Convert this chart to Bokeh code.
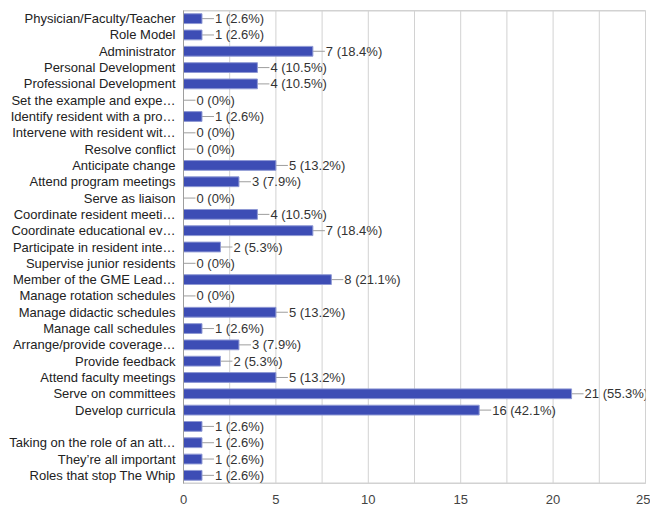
from bokeh.plotting import figure
from bokeh.models import Range1d, FixedTicker, ColumnDataSource, Div
from bokeh.layouts import column
from bokeh.core.properties import value
from bokeh.embed import file_html
from bokeh.resources import INLINE

categories = [
    "Physician/Faculty/Teacher",
    "Role Model",
    "Administrator",
    "Personal Development",
    "Professional Development",
    "Set the example and expe\u2026",
    "Identify resident with a pro\u2026",
    "Intervene with resident wit\u2026",
    "Resolve conflict",
    "Anticipate change",
    "Attend program meetings",
    "Serve as liaison",
    "Coordinate resident meeti\u2026",
    "Coordinate educational ev\u2026",
    "Participate in resident inte\u2026",
    "Supervise junior residents",
    "Member of the GME Lead\u2026",
    "Manage rotation schedules",
    "Manage didactic schedules",
    "Manage call schedules",
    "Arrange/provide coverage\u2026",
    "Provide feedback",
    "Attend faculty meetings",
    "Serve on committees",
    "Develop curricula",
    "",
    "Taking on the role of an att\u2026",
    "They\u2019re all important",
    "Roles that stop The Whip",
]
counts = [1, 1, 7, 4, 4, 0, 1, 0, 0, 5, 3, 0, 4, 7, 2, 0, 8, 0, 5, 1, 3, 2, 5, 21, 16, 1, 1, 1, 1]
percents = ["2.6%", "2.6%", "18.4%", "10.5%", "10.5%", "0%", "2.6%", "0%", "0%", "13.2%",
            "7.9%", "0%", "10.5%", "18.4%", "5.3%", "0%", "21.1%", "0%", "13.2%", "2.6%",
            "7.9%", "5.3%", "13.2%", "55.3%", "42.1%", "2.6%", "2.6%", "2.6%", "2.6%"]
x_ticks = [0, 5, 10, 15, 20, 25]
x_minor = [2.5, 7.5, 12.5, 17.5, 22.5]

n = len(categories)
ypos = list(range(n))
labels = [f"{c} ({p})" for c, p in zip(counts, percents)]
src = ColumnDataSource(dict(y=ypos, v=counts, lab=labels))

FONT = "Liberation Sans"
GRID = "#d2d2d2"

x_lo, x_hi = x_ticks[0], x_ticks[-1]
p = figure(width=650, height=506, output_backend="svg", toolbar_location=None,
           x_range=Range1d(x_lo, x_hi), y_range=Range1d(n - 0.5, -0.5),
           min_border_left=183, min_border_right=5, min_border_top=10, min_border_bottom=21)
p.background_fill_color = "white"
p.border_fill_color = "white"
p.outline_line_color = GRID

# x axis
xa = p.xaxis[0]
xa.ticker = FixedTicker(ticks=x_ticks, minor_ticks=x_minor)
xa.axis_line_color = GRID
xa.major_tick_line_color = None
xa.minor_tick_line_color = None
xa.major_label_standoff = 5
xa.major_label_text_font = FONT
xa.major_label_text_font_size = "13px"
xa.major_label_text_color = "#444444"

p.xgrid.grid_line_color = None
p.ygrid.grid_line_color = None

# vertical grid lines at every major and minor tick, drawn as glyphs
grid_x = sorted(x_ticks + x_minor)
p.segment(x0=grid_x, x1=grid_x, y0=[-0.5] * len(grid_x), y1=[n - 0.5] * len(grid_x),
          line_color=GRID, line_width=1)
# frame top / bottom edges
p.segment(x0=[x_lo, x_lo], x1=[x_hi, x_hi], y0=[-0.5, n - 0.5], y1=[-0.5, n - 0.5],
          line_color=GRID, line_width=2)

# connector dashes (left half hidden under bar / clipped at axis)
p.scatter(x="v", y="y", source=src, marker="dash", size=24, line_color="#9e9e9e", line_width=1)
p.hbar(y="y", right="v", left=0, height=0.6, source=src,
       fill_color="#3D4DB5", line_color="#8f99d4", line_width=1)
p.text(x="v", y="y", text="lab", source=src, x_offset=13,
       text_font=value(FONT), text_font_size="13px", text_color="#333333",
       text_baseline="middle", text_align="left")

# y axis
ya = p.yaxis[0]
ya.ticker = FixedTicker(ticks=ypos)
ya.major_label_overrides = {i: c for i, c in zip(ypos, categories)}
ya.axis_line_color = "#9e9e9e"
ya.major_tick_line_color = None
ya.minor_tick_line_color = None
ya.major_label_standoff = 2
ya.major_label_text_font = FONT
ya.major_label_text_font_size = "13px"
ya.major_label_text_color = "#222222"

bar = Div(text="", width=650, height=2, styles={"background-color": "#1f7f8c"})
layout = column(p, bar, spacing=0)

open("out.html", "w").write(file_html(layout, INLINE))
